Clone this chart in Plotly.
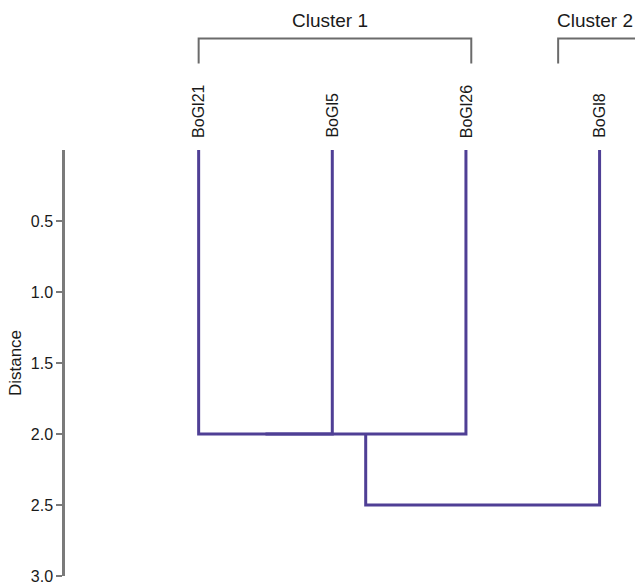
import plotly.graph_objects as go

# ---- data ----
leaf_labels = ["BoGl21", "BoGl5", "BoGl26", "BoGl8"]
# scipy-style linkage: [child_a, child_b, distance]; ids >= n refer to earlier merges
linkage = [[0, 1, 2.0],
           [4, 2, 2.0],
           [5, 3, 2.5]]
cluster_names = ["Cluster 1", "Cluster 2"]
cluster_members = [[0, 1, 2], [3]]
y_tick_vals = [0.5, 1.0, 1.5, 2.0, 2.5, 3.0]
y_tick_text = ["0.5", "1.0", "1.5", "2.0", "2.5", "3.0"]

# ---- style ----
LINE_COLOR = "#4f3f95"
AXIS_COLOR = "#7a7a7a"
BRACKET_COLOR = "#6b6b6b"
FONT = "Arial, Liberation Sans, sans-serif"
bracket_pad = [(0.0, 0.04), (0.31, 0.31)]

n = len(leaf_labels)
leaf_x = [i + 1 for i in range(n)]
node_x = {i: leaf_x[i] for i in range(n)}
node_h = {i: 0.0 for i in range(n)}

fig = go.Figure()
for k, (a, b, d) in enumerate(linkage):
    xa, xb = node_x[a], node_x[b]
    ha, hb = node_h[a], node_h[b]
    fig.add_trace(go.Scatter(
        x=[xa, xa, xb, xb], y=[ha, d, d, hb], mode="lines",
        line=dict(color=LINE_COLOR, width=3), hoverinfo="skip", showlegend=False))
    node_x[n + k] = (xa + xb) / 2
    node_h[n + k] = d

# leaf labels
for i, lab in enumerate(leaf_labels):
    fig.add_annotation(x=leaf_x[i], y=1.024, xref="x", yref="paper",
                       text=lab, textangle=-90, showarrow=False,
                       xanchor="center", yanchor="bottom",
                       font=dict(family=FONT, size=16, color="#1a1a1a"))

# cluster brackets
y_top, y_leg = 1.2617, 1.203
for name, mem, (pl, pr) in zip(cluster_names, cluster_members, bracket_pad):
    x0 = min(leaf_x[m] for m in mem) - pl
    x1 = max(leaf_x[m] for m in mem) + pr
    fig.add_shape(type="path", xref="x", yref="paper",
                  path=f"M {x0},{y_leg} L {x0},{y_top} L {x1},{y_top} L {x1},{y_leg}",
                  line=dict(color=BRACKET_COLOR, width=2))
    fig.add_annotation(x=(x0 + x1) / 2, y=1.305, xref="x", yref="paper",
                       text=name, showarrow=False, xanchor="center", yanchor="middle",
                       xshift=-5, font=dict(family=FONT, size=19, color="#1a1a1a"))

fig.update_layout(
    width=635, height=588,
    margin=dict(l=65, r=0, t=150, b=12),
    paper_bgcolor="white", plot_bgcolor="white",
    font=dict(family=FONT, size=16, color="#1a1a1a"),
    showlegend=False,
    xaxis=dict(visible=False, range=[0, 4.265], showgrid=False, zeroline=False),
    yaxis=dict(range=[3, 0], tickvals=y_tick_vals, ticktext=y_tick_text,
               showgrid=False, zeroline=False, showline=True,
               linecolor=AXIS_COLOR, linewidth=2.5,
               ticks="outside", ticklen=6, tickwidth=2, tickcolor=AXIS_COLOR,
               tickfont=dict(family=FONT, size=16, color="#1a1a1a"),
               title=dict(text="Distance", standoff=5,
                          font=dict(family=FONT, size=17, color="#1a1a1a"))),
)

# remove the page's default body margin so the figure fills the window exactly
fig.write_html("out.html", config={"displayModeBar": False},
               post_script="document.body.style.margin='0';document.body.style.overflow='hidden';")
